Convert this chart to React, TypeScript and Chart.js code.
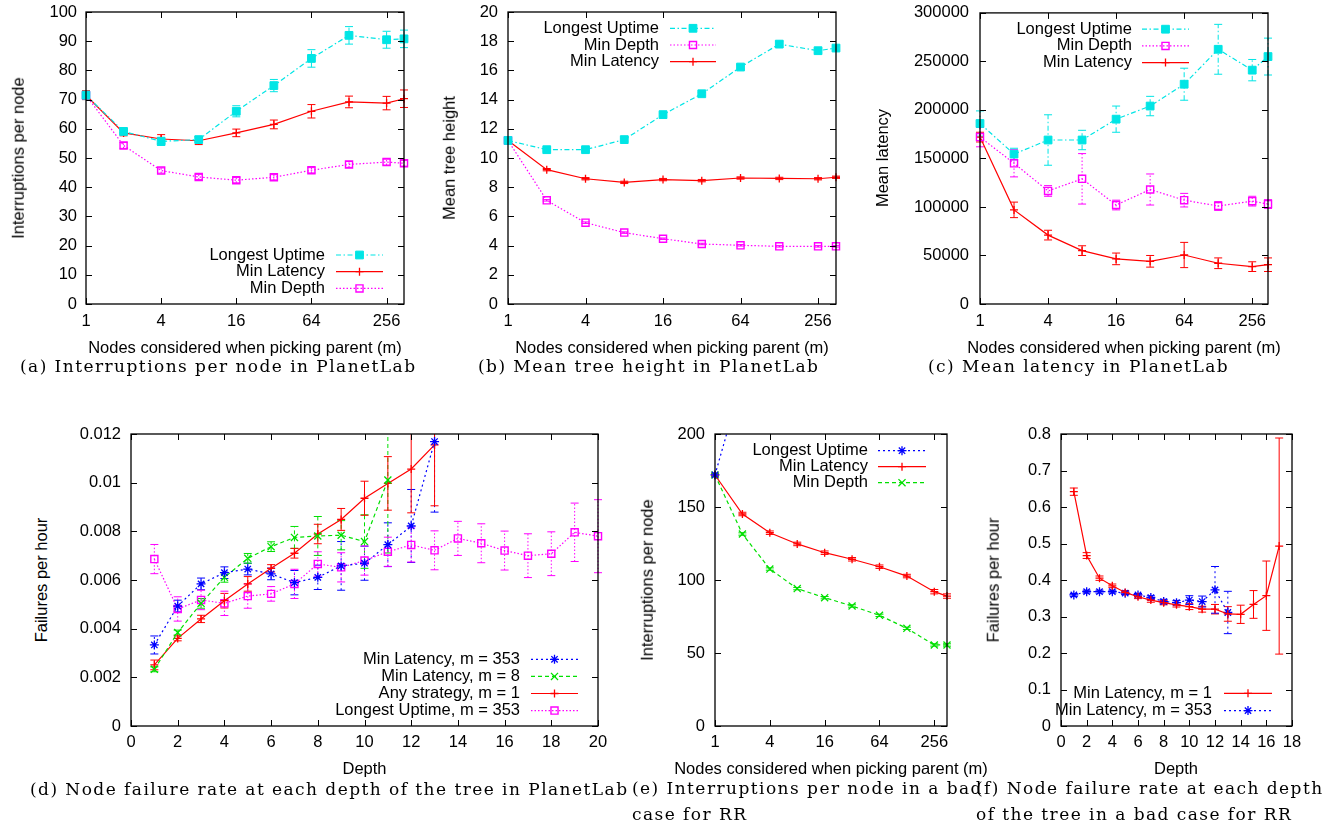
import React, { useEffect, useRef } from 'react';
import { Chart, registerables } from 'chart.js';
import { drawPoint } from 'chart.js/helpers';

Chart.register(...registerables);

const SANS = '"Liberation Sans", Arial, Helvetica, sans-serif';
const SERIF = '"DejaVu Serif", "Liberation Serif", serif';
const FS = 16.5;

// ---------------- data ----------------
const mValues = [1, 2, 4, 8, 16, 32, 64, 128, 256, 353];
const mTickLabels = [1, 4, 16, 64, 256];

// (a) Interruptions per node in PlanetLab
const aUptime = [71.5, 59.1, 55.7, 56.3, 66.0, 74.8, 84.1, 92.0, 90.5, 90.8];
const aUptimeErr = [1.5, 1.0, 1.4, 1.0, 1.9, 2.1, 3.0, 3.0, 2.9, 3.0];
const aLatency = [71.5, 58.6, 56.5, 55.9, 58.6, 61.5, 66.0, 69.2, 68.8, 70.3];
const aLatencyErr = [1.5, 1.0, 1.5, 1.3, 1.3, 1.5, 2.3, 2.0, 2.3, 3.0];
const aDepth = [71.5, 54.3, 45.7, 43.5, 42.4, 43.4, 45.8, 47.8, 48.6, 48.2];
const aDepthErr = [1.0, 1.0, 0.9, 0.9, 0.9, 0.9, 0.9, 1.0, 1.0, 1.0];

// (b) Mean tree height in PlanetLab
const bUptime = [11.2, 10.57, 10.57, 11.26, 12.97, 14.4, 16.23, 17.8, 17.35, 17.53];
const bUptimeErr = [0.1, 0.1, 0.1, 0.1, 0.1, 0.1, 0.15, 0.2, 0.15, 0.15];
const bDepth = [11.2, 7.1, 5.57, 4.89, 4.47, 4.11, 4.02, 3.95, 3.95, 3.95];
const bDepthErr = [0.05, 0.05, 0.05, 0.05, 0.05, 0.05, 0.05, 0.05, 0.05, 0.05];
const bLatency = [11.2, 9.2, 8.58, 8.33, 8.52, 8.45, 8.63, 8.6, 8.58, 8.68];
const bLatencyErr = [0.08, 0.08, 0.08, 0.08, 0.08, 0.08, 0.08, 0.08, 0.08, 0.08];

// (c) Mean latency in PlanetLab
const cUptime = [186000, 154500, 169000, 169000, 190500, 204000, 226500, 262500, 241000, 255000];
const cUptimeErr = [13000, 6000, 26000, 10000, 13500, 10000, 16500, 25700, 11000, 19000];
const cDepth = [172000, 145000, 116500, 129000, 102000, 118000, 107000, 101000, 106000, 103000];
const cDepthErr = [10000, 14000, 5500, 26000, 5000, 16000, 7000, 4500, 5000, 4500];
const cLatency = [172000, 97000, 71000, 55000, 46500, 44000, 50500, 42000, 38500, 40500];
const cLatencyErr = [5000, 8000, 5000, 5000, 6000, 6000, 13000, 5500, 5000, 7000];

// (d) Node failure rate at each depth in PlanetLab
const depthsTo20 = [1, 2, 3, 4, 5, 6, 7, 8, 9, 10, 11, 12, 13, 14, 15, 16, 17, 18, 19, 20];
const depthsTo13 = [1, 2, 3, 4, 5, 6, 7, 8, 9, 10, 11, 12, 13];
const depthsTo11 = [1, 2, 3, 4, 5, 6, 7, 8, 9, 10, 11];
const dLat353 = [0.00333, 0.00493, 0.00584, 0.0063, 0.00645, 0.00625, 0.00589, 0.00611, 0.00658, 0.00669, 0.00745, 0.00822, 0.01169];
const dLat353Err = [0.00037, 0.00024, 0.00024, 0.00024, 0.00024, 0.00024, 0.0005, 0.0005, 0.001, 0.0007, 0.0009, 0.0015, 0.0029];
const dLat8 = [0.00233, 0.00384, 0.00504, 0.00611, 0.00689, 0.00737, 0.00775, 0.00781, 0.00784, 0.00758, 0.01011];
const dLat8Err = [0.0001, 0.0001, 0.0002, 0.0002, 0.0002, 0.0002, 0.00045, 0.0008, 0.0006, 0.0011, 0.003];
const dAny1 = [0.00251, 0.0036, 0.0044, 0.00515, 0.00584, 0.00648, 0.0071, 0.00789, 0.00849, 0.00936, 0.00997, 0.01056, 0.01155];
const dAny1Err = [0.0002, 0.0001, 0.00015, 0.0003, 0.0003, 0.00015, 0.0002, 0.0004, 0.00045, 0.0007, 0.0011, 0.0018, 0.0025];
const dUp353 = [0.00686, 0.00481, 0.00518, 0.00504, 0.00534, 0.00543, 0.00584, 0.00666, 0.00652, 0.0068, 0.00716, 0.00744, 0.00722, 0.00771, 0.00751, 0.00721, 0.007, 0.00708, 0.00796, 0.0078];
const dUp353Err = [0.0006, 0.0005, 0.0004, 0.0005, 0.0005, 0.0003, 0.0006, 0.0005, 0.0006, 0.0006, 0.0006, 0.0007, 0.0008, 0.0007, 0.0008, 0.0008, 0.0009, 0.0009, 0.0012, 0.0015];

// (e) Interruptions per node in a bad case for RR (uptime series leaves the plot after m = 1)
const eUptimeM = [1, 2];
const eUptime = [172, 238];
const eLatency = [171.9, 145.2, 132.4, 124.7, 118.7, 114.2, 109.1, 102.7, 92.0, 89.0];
const eLatencyErr = [1.2, 1.2, 1.2, 1.2, 1.2, 1.2, 1.2, 1.2, 1.5, 1.5];
const eDepth = [171.9, 131.5, 107.5, 94.1, 87.9, 82.2, 75.8, 66.9, 55.5, 55.5];
const eDepthErr = [0.8, 0.8, 0.8, 0.8, 0.8, 0.8, 0.8, 0.8, 0.8, 0.8];

// (f) Node failure rate at each depth in a bad case for RR
const depthsTo17 = [1, 2, 3, 4, 5, 6, 7, 8, 9, 10, 11, 12, 13, 14, 15, 16, 17];
const fLat1 = [0.642, 0.467, 0.405, 0.384, 0.366, 0.354, 0.345, 0.338, 0.332, 0.327, 0.32, 0.32, 0.307, 0.306, 0.333, 0.357, 0.493];
const fLat1Err = [0.01, 0.008, 0.006, 0.005, 0.005, 0.005, 0.006, 0.006, 0.006, 0.008, 0.008, 0.013, 0.02, 0.025, 0.038, 0.095, 0.296];
const fLat353 = [0.359, 0.368, 0.368, 0.368, 0.364, 0.359, 0.352, 0.341, 0.338, 0.345, 0.341, 0.373, 0.311];
const fLat353Err = [0.004, 0.004, 0.004, 0.004, 0.004, 0.004, 0.005, 0.006, 0.006, 0.012, 0.015, 0.064, 0.058];

// ---------------- styles ----------------
const CYAN = '#00e5e5';
const RED = '#ff0000';
const MAGENTA = '#ff00ff';
const GREEN = '#00e000';
const BLUE = '#0000ff';

const sCyan = { borderColor: CYAN, backgroundColor: CYAN, borderWidth: 1.2, borderDash: [5, 2.5, 1.5, 2.5], pointStyle: 'rect', pointRadius: 5.5, pointBackgroundColor: CYAN, pointBorderColor: CYAN, pointBorderWidth: 1 };
const sRed = { borderColor: RED, backgroundColor: RED, borderWidth: 1.2, borderDash: [], pointStyle: 'cross', pointRadius: 4, pointBackgroundColor: RED, pointBorderColor: RED, pointBorderWidth: 1.3 };
const sMagenta = { borderColor: MAGENTA, backgroundColor: MAGENTA, borderWidth: 1.2, borderDash: [1.5, 2], pointStyle: 'rect', pointRadius: 5, pointBackgroundColor: 'rgba(0,0,0,0)', pointBorderColor: MAGENTA, pointBorderWidth: 1.4 };
const sBlue = { borderColor: BLUE, backgroundColor: BLUE, borderWidth: 1.2, borderDash: [2, 3], pointStyle: 'star', pointRadius: 4.5, pointBackgroundColor: BLUE, pointBorderColor: BLUE, pointBorderWidth: 1.3 };
const sGreen = { borderColor: GREEN, backgroundColor: GREEN, borderWidth: 1.2, borderDash: [4, 3], pointStyle: 'crossRot', pointRadius: 5, pointBackgroundColor: GREEN, pointBorderColor: GREEN, pointBorderWidth: 1.3 };

function series(label: string, xs: number[], ys: number[], errs: number[] | null, style: any) {
  return {
    label,
    data: xs.map((x, i) => ({ x, y: ys[i] })),
    errorBars: errs,
    ...style,
    fill: false,
    tension: 0,
    clip: { left: 10, right: 10, top: 0, bottom: 10 },
  };
}

// ---------------- plugin: error bars, gnuplot frame, legend ----------------
const gpPlugin = {
  id: 'gpFrame',
  beforeDatasetsDraw(chart: any) {
    const { ctx, chartArea: ca } = chart;
    const xs = chart.scales.x;
    const ys = chart.scales.y;
    ctx.save();
    ctx.beginPath();
    ctx.rect(ca.left - 10, ca.top, ca.right - ca.left + 20, ca.bottom - ca.top + 10);
    ctx.clip();
    chart.data.datasets.forEach((ds: any) => {
      const errs = ds.errorBars;
      if (!errs) return;
      ds.data.forEach((p: any, i: number) => {
        const e = errs[i];
        if (e == null) return;
        const px = xs.getPixelForValue(p.x);
        const y1 = ys.getPixelForValue(p.y - e);
        const y2 = ys.getPixelForValue(p.y + e);
        ctx.strokeStyle = ds.borderColor;
        ctx.lineWidth = 1;
        ctx.setLineDash(ds.borderDash || []);
        ctx.beginPath();
        ctx.moveTo(px, y1);
        ctx.lineTo(px, y2);
        ctx.stroke();
        ctx.setLineDash([]);
        ctx.beginPath();
        ctx.moveTo(px - 4, y1);
        ctx.lineTo(px + 4, y1);
        ctx.moveTo(px - 4, y2);
        ctx.lineTo(px + 4, y2);
        ctx.stroke();
      });
    });
    ctx.restore();
  },
  afterDatasetsDraw(chart: any, _args: any, opts: any) {
    const { ctx, chartArea: ca } = chart;
    const xs = chart.scales.x;
    const ys = chart.scales.y;
    ctx.save();
    ctx.setLineDash([]);
    ctx.strokeStyle = '#000';
    ctx.lineWidth = 1;
    ctx.beginPath();
    const TL = 6;
    xs.ticks.forEach((t: any) => {
      const px = Math.round(xs.getPixelForValue(t.value)) + 0.5;
      ctx.moveTo(px, ca.bottom);
      ctx.lineTo(px, ca.bottom - TL);
      ctx.moveTo(px, ca.top);
      ctx.lineTo(px, ca.top + TL);
    });
    ys.ticks.forEach((t: any) => {
      const py = Math.round(ys.getPixelForValue(t.value)) + 0.5;
      ctx.moveTo(ca.left, py);
      ctx.lineTo(ca.left + TL, py);
      ctx.moveTo(ca.right, py);
      ctx.lineTo(ca.right - TL, py);
    });
    ctx.stroke();
    ctx.lineWidth = 1.3;
    ctx.strokeRect(ca.left, ca.top, ca.right - ca.left, ca.bottom - ca.top);

    const lg = opts && opts.legend;
    if (lg) {
      ctx.font = `${FS}px ${SANS}`;
      ctx.textAlign = 'right';
      ctx.textBaseline = 'middle';
      lg.order.forEach((di: number, k: number) => {
        const ds = chart.data.datasets[di];
        const yy = ca.top + lg.y0 + k * lg.dy;
        ctx.fillStyle = '#000';
        ctx.fillText(ds.label, ca.left + lg.textRight, yy);
        ctx.strokeStyle = ds.borderColor;
        ctx.lineWidth = ds.borderWidth;
        ctx.setLineDash(ds.borderDash || []);
        ctx.beginPath();
        ctx.moveTo(ca.left + lg.x0, yy);
        ctx.lineTo(ca.left + lg.x1, yy);
        ctx.stroke();
        ctx.setLineDash([]);
        ctx.fillStyle = ds.pointBackgroundColor;
        ctx.strokeStyle = ds.pointBorderColor;
        ctx.lineWidth = ds.pointBorderWidth;
        drawPoint(ctx, { pointStyle: ds.pointStyle, radius: ds.pointRadius, borderWidth: ds.pointBorderWidth, rotation: 0 } as any, ca.left + (lg.x0 + lg.x1) / 2, yy);
      });
    }
    ctx.restore();
  },
};

// ---------------- panel layout ----------------
const PAD_L = 80;
const PAD_T = 20;
const PAD_R = 26;
const PAD_B = 34;

const fmtNum = (v: any) => String(parseFloat(Number(v).toFixed(6)));

function logX() {
  return {
    type: 'logarithmic',
    min: 1,
    max: 353,
    afterBuildTicks: (s: any) => {
      s.ticks = mTickLabels.map((v) => ({ value: v }));
    },
    ticks: { callback: (v: any) => String(v) },
  };
}
function linX(max: number, step: number) {
  return { type: 'linear', min: 0, max, ticks: { stepSize: step, callback: fmtNum } };
}
function linY(max: number, step: number) {
  return { type: 'linear', min: 0, max, ticks: { stepSize: step, callback: fmtNum } };
}

function buildConfig(p: any) {
  const font = { family: SANS, size: FS };
  const x = p.x;
  const y = p.y;
  return {
    type: 'line',
    data: { datasets: p.datasets },
    options: {
      responsive: false,
      animation: false,
      events: [],
      layout: { padding: { left: 0, top: PAD_T, right: PAD_R, bottom: 0 } },
      plugins: { legend: { display: false }, tooltip: { enabled: false }, gpFrame: { legend: p.legend } },
      scales: {
        x: {
          ...x,
          position: 'bottom',
          grid: { display: false, drawTicks: false },
          border: { display: false },
          ticks: { ...x.ticks, font, color: '#000', padding: p.xPad, maxRotation: 0, autoSkip: false },
          afterFit: (s: any) => {
            s.height = PAD_B;
          },
        },
        y: {
          ...y,
          position: 'left',
          grid: { display: false, drawTicks: false },
          border: { display: false },
          ticks: { ...y.ticks, font, color: '#000', padding: p.yPad, autoSkip: false },
          afterFit: (s: any) => {
            s.width = PAD_L;
          },
        },
      },
    },
    plugins: [gpPlugin],
  };
}

const panels: any[] = [
  {
    key: 'a',
    plot: { L: 86, T: 12, R: 404, B: 304 },
    x: logX(),
    y: linY(100, 10),
    xPad: 8,
    yPad: 9,
    datasets: [
      series('Longest Uptime', mValues, aUptime, aUptimeErr, sCyan),
      series('Min Latency', mValues, aLatency, aLatencyErr, sRed),
      series('Min Depth', mValues, aDepth, aDepthErr, sMagenta),
    ],
    legend: { order: [0, 1, 2], textRight: 239, x0: 250, x1: 297, y0: 243, dy: 16.7 },
    xTitle: { text: 'Nodes considered when picking parent (m)', cx: 245, cy: 347 },
    yTitle: { text: 'Interruptions per node', cx: 18, cy: 158 },
    caption: { lines: ['(a) Interruptions per node in PlanetLab'], left: 20, top: 353 },
  },
  {
    key: 'b',
    plot: { L: 508, T: 12, R: 836, B: 304 },
    x: logX(),
    y: linY(20, 2),
    xPad: 8,
    yPad: 10,
    datasets: [
      series('Longest Uptime', mValues, bUptime, bUptimeErr, sCyan),
      series('Min Depth', mValues, bDepth, bDepthErr, sMagenta),
      series('Min Latency', mValues, bLatency, bLatencyErr, sRed),
    ],
    legend: { order: [0, 1, 2], textRight: 151, x0: 162, x1: 208, y0: 16.3, dy: 16.7 },
    xTitle: { text: 'Nodes considered when picking parent (m)', cx: 672, cy: 347 },
    yTitle: { text: 'Mean tree height', cx: 449, cy: 158 },
    caption: { lines: ['(b) Mean tree height in PlanetLab'], left: 478, top: 353 },
  },
  {
    key: 'c',
    plot: { L: 980, T: 12, R: 1268, B: 304 },
    x: logX(),
    y: linY(300000, 50000),
    xPad: 8,
    yPad: 11,
    datasets: [
      series('Longest Uptime', mValues, cUptime, cUptimeErr, sCyan),
      series('Min Depth', mValues, cDepth, cDepthErr, sMagenta),
      series('Min Latency', mValues, cLatency, cLatencyErr, sRed),
    ],
    legend: { order: [0, 1, 2], textRight: 152, x0: 162, x1: 209, y0: 16.3, dy: 16.7 },
    xTitle: { text: 'Nodes considered when picking parent (m)', cx: 1124, cy: 347 },
    yTitle: { text: 'Mean latency', cx: 882, cy: 158 },
    caption: { lines: ['(c) Mean latency in PlanetLab'], left: 928, top: 353 },
  },
  {
    key: 'd',
    plot: { L: 131, T: 434, R: 598, B: 726 },
    x: linX(20, 2),
    y: linY(0.012, 0.002),
    xPad: 7,
    yPad: 10,
    datasets: [
      series('Min Latency, m = 353', depthsTo13, dLat353, dLat353Err, sBlue),
      series('Min Latency, m = 8', depthsTo11, dLat8, dLat8Err, sGreen),
      series('Any strategy, m = 1', depthsTo13, dAny1, dAny1Err, sRed),
      series('Longest Uptime, m = 353', depthsTo20, dUp353, dUp353Err, sMagenta),
    ],
    legend: { order: [0, 1, 2, 3], textRight: 389, x0: 400, x1: 447, y0: 225.3, dy: 17.1 },
    xTitle: { text: 'Depth', cx: 364.5, cy: 768 },
    yTitle: { text: 'Failures per hour', cx: 41, cy: 580 },
    caption: { lines: ['(d) Node failure rate at each depth of the tree in PlanetLab'], left: 30, top: 776 },
  },
  {
    key: 'e',
    plot: { L: 715, T: 434, R: 947, B: 726 },
    x: logX(),
    y: linY(200, 50),
    xPad: 7,
    yPad: 10,
    datasets: [
      series('Longest Uptime', eUptimeM, eUptime, null, sBlue),
      series('Min Latency', mValues, eLatency, eLatencyErr, sRed),
      series('Min Depth', mValues, eDepth, eDepthErr, sGreen),
    ],
    legend: { order: [0, 1, 2], textRight: 153, x0: 163, x1: 211, y0: 16.7, dy: 16 },
    xTitle: { text: 'Nodes considered when picking parent (m)', cx: 831, cy: 768 },
    yTitle: { text: 'Interruptions per node', cx: 647, cy: 580 },
    caption: { lines: ['(e) Interruptions per node in a bad', 'case for RR'], left: 632, top: 775 },
  },
  {
    key: 'f',
    plot: { L: 1061, T: 434, R: 1292, B: 726 },
    x: linX(18, 2),
    y: linY(0.8, 0.1),
    xPad: 7,
    yPad: 10,
    datasets: [
      series('Min Latency, m = 1', depthsTo17, fLat1, fLat1Err, sRed),
      series('Min Latency, m = 353', depthsTo13, fLat353, fLat353Err, sBlue),
    ],
    legend: { order: [0, 1], textRight: 151, x0: 163, x1: 211, y0: 259.3, dy: 17.3 },
    xTitle: { text: 'Depth', cx: 1176, cy: 768 },
    yTitle: { text: 'Failures per hour', cx: 993, cy: 580 },
    caption: { lines: ['(f) Node failure rate at each depth', 'of the tree in a bad case for RR'], left: 976, top: 775 },
  },
];

function Panel({ spec }: { spec: any }) {
  const ref = useRef<HTMLCanvasElement | null>(null);
  useEffect(() => {
    const chart = new Chart(ref.current as HTMLCanvasElement, buildConfig(spec) as any);
    return () => chart.destroy();
  }, [spec]);
  const { L, T, R, B } = spec.plot;
  const left = L - PAD_L;
  const top = T - PAD_T;
  const w = R - L + PAD_L + PAD_R;
  const h = B - T + PAD_T + PAD_B;
  const textStyle: React.CSSProperties = {
    position: 'absolute',
    fontFamily: SANS,
    fontSize: FS,
    lineHeight: 1,
    whiteSpace: 'nowrap',
    color: '#000',
  };
  return (
    <>
      <canvas ref={ref} width={w} height={h} style={{ position: 'absolute', left, top, width: w, height: h }} />
      <div style={{ ...textStyle, left: spec.xTitle.cx, top: spec.xTitle.cy, transform: 'translate(-50%, -50%)' }}>{spec.xTitle.text}</div>
      <div style={{ ...textStyle, left: spec.yTitle.cx, top: spec.yTitle.cy, transform: 'translate(-50%, -50%) rotate(-90deg)' }}>{spec.yTitle.text}</div>
      <div
        style={{
          position: 'absolute',
          left: spec.caption.left,
          top: spec.caption.top,
          fontFamily: SERIF,
          fontSize: 17,
          lineHeight: '26px',
          letterSpacing: '1.45px',
          whiteSpace: 'nowrap',
          color: '#000',
        }}
      >
        {spec.caption.lines.map((ln: string, i: number) => (
          <div key={i}>{ln}</div>
        ))}
      </div>
    </>
  );
}

export default function App() {
  return (
    <div style={{ position: 'absolute', left: 0, top: 0, width: 1323, height: 824, background: '#fff', overflow: 'hidden' }}>
      {panels.map((p) => (
        <Panel key={p.key} spec={p} />
      ))}
    </div>
  );
}
